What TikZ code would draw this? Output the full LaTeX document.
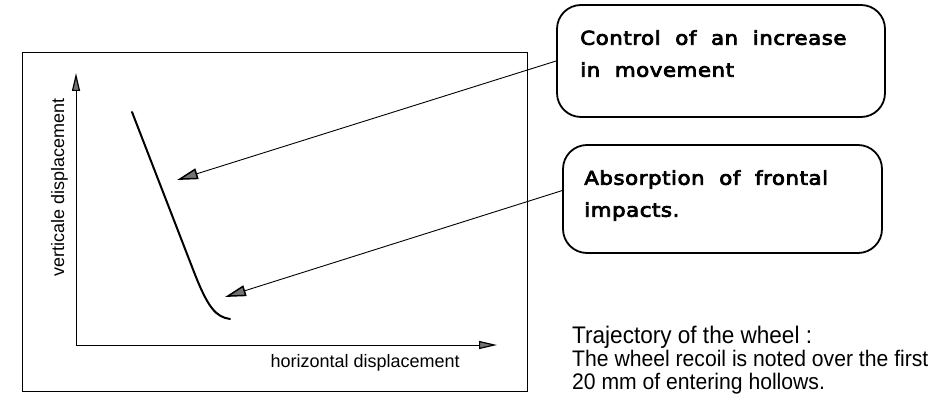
\documentclass[tikz,border=0pt]{standalone}
\usepackage{fontspec}
\setmainfont{Liberation Sans}
\newfontfamily\boxfont[FakeStretch=1.12,LetterSpace=3,WordSpace=2,FakeBold=4]{DejaVu Sans}
\newfontfamily\notefont[FakeStretch=0.94]{Liberation Sans}
\usetikzlibrary{positioning,calc,arrows.meta}

\begin{document}
\begin{tikzpicture}[x=1pt,y=1pt]
  \useasboundingbox (0,0) rectangle (949,396);
  \coordinate(origin) at (76,51);
  \coordinate(y-end) at (76,323);
  \coordinate(x-end) at (497,51);
  \coordinate(control-tip) at (177,216);
  \coordinate(impact-tip) at (225,99);
  \node[draw,line width=0.9pt,inner sep=0pt,minimum width=505,minimum height=339] (frame) at (274.5,174.5) {};
  \begin{scope}[
    every edge/.style={draw,line width=0.8pt},
    ]
    \path[-{Triangle[length=18pt,width=8pt,fill=black!55,line width=1.2pt]}]
    (origin) edge (y-end)
    (origin) edge (x-end);
  \end{scope}
  % trajectory of the wheel
  \draw[line width=2pt,line cap=round] (132,284) -- (194,124) .. controls (208,88) and (216,79) .. (230,77);
  \node[font=\fontsize{18}{20}\selectfont,anchor=base west] (x-label) at (267,29) {horizontal displacement};
  \node[font=\fontsize{18}{20}\selectfont,rotate=90,anchor=base] (y-label) at (64,209) {verticale displacement};
  \begin{scope}[
    every node/.style={
      draw,
      line width=1.8pt,
      rounded corners=24pt,
      inner sep=0pt,
    },
    ]
    \node[minimum width=328,minimum height=112] (control) at (721,335) {};
    \node[minimum width=319,minimum height=108] (impact) at (722.5,197) {};
  \end{scope}
  \begin{scope}[
    every node/.style={
      align=left,
      anchor=north west,
      inner sep=0pt,
      font=\boxfont\fontsize{19}{32}\selectfont,
    },
    ]
    \node (control-text) at ($(control.north west)+(24,-26)$) {Control of an increase\\in movement};
    \node (impact-text)  at ($(impact.north west)+(22,-26)$)  {Absorption of frontal\\impacts.};
  \end{scope}
  \begin{scope}[
    every edge/.style={draw,line width=0.9pt},
    >={Triangle[length=21pt,width=11pt,fill=black!55,line width=1.5pt]},
    ]
    \path[->]
    (control.west) edge (control-tip)
    (impact.177)   edge (impact-tip);
  \end{scope}
  \node[font=\notefont\fontsize{24}{26}\selectfont,anchor=base west,inner sep=0pt] (note-title) at (572,53) {Trajectory of the wheel :};
  \node[font=\notefont\fontsize{22.5}{23}\selectfont,align=left,anchor=north west,inner sep=0pt] (note-body) at (572,46.4)
    {The wheel recoil is noted over the first\\20 mm of entering hollows.};
\end{tikzpicture}
\end{document}
